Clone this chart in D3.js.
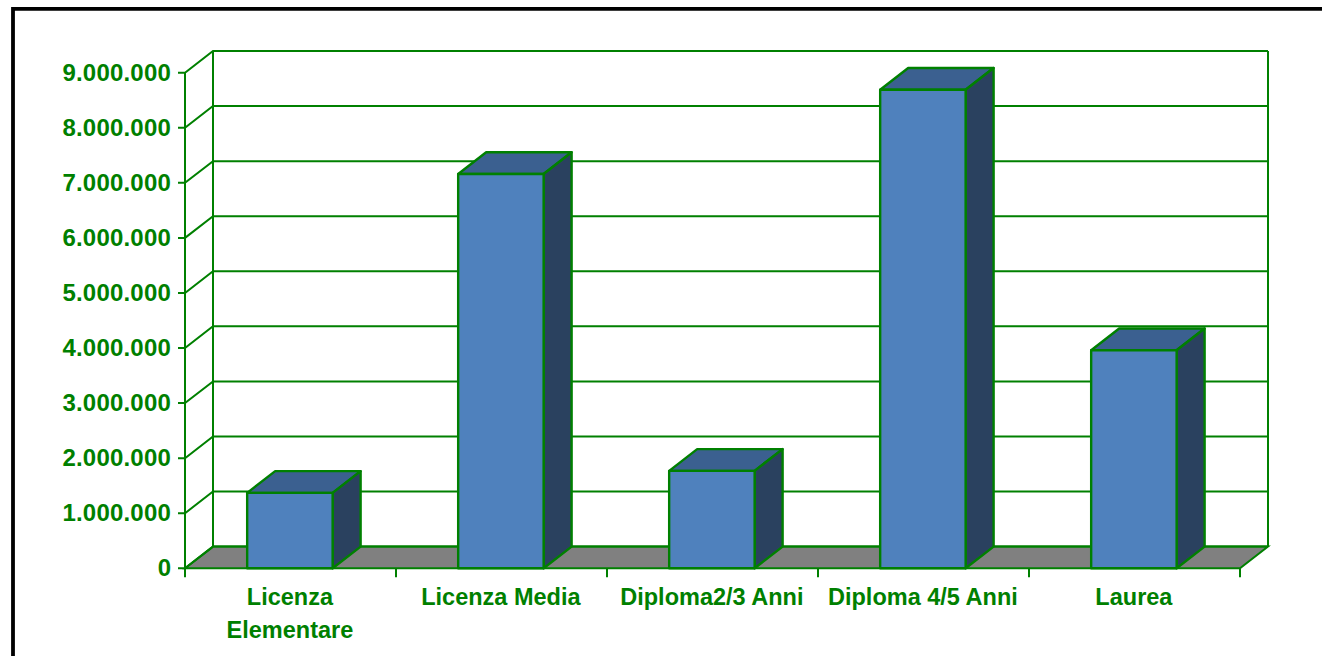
<!DOCTYPE html>
<html><head><meta charset="utf-8">
<script src="https://cdnjs.cloudflare.com/ajax/libs/d3/7.8.5/d3.min.js"></script>
<style>html,body{margin:0;padding:0;background:#fff;overflow:hidden}svg{display:block}
text{font-family:"Liberation Sans",Arial,sans-serif;font-weight:bold;fill:#008000;font-size:24px}</style>
</head><body><svg id="c" width="1322" height="656"></svg>
<script>
const categories = [["Licenza","Elementare"],["Licenza Media"],["Diploma2/3 Anni"],["Diploma 4/5 Anni"],["Laurea"]];
const values = [1370000,7160000,1770000,8690000,3960000];
const yTicks = [0,1000000,2000000,3000000,4000000,5000000,6000000,7000000,8000000,9000000];
const tickLabels = ["0","1.000.000","2.000.000","3.000.000","4.000.000","5.000.000","6.000.000","7.000.000","8.000.000","9.000.000"];

const svg = d3.select("#c");
const green="#008000", dx=28, dy=-21.7;
svg.append("path").attr("d","M13,656L13,8.8L1322,8.8").attr("fill","none").attr("stroke","#000").attr("stroke-width",3.8);

const x = d3.scaleBand().domain(d3.range(5)).range([184.4,1239.4]).paddingInner(0.595).paddingOuter(0.2975);
const y = d3.scaleLinear().domain([0,9000000]).range([568.3,72.7]);
const x0=185,x1=1240,y0=y(0),yT=y(9000000);

svg.append("path").attr("d",`M${x0},${y0}L${x0+dx},${y0+dy}L${x1+dx},${y0+dy}L${x1},${y0}Z`).attr("fill","#808080").attr("stroke",green).attr("stroke-width",2);
const g=svg.append("g").attr("stroke",green).attr("stroke-width",2).attr("fill","none");
g.append("line").attr("x1",x0).attr("x2",x0).attr("y1",y0).attr("y2",yT);
g.append("line").attr("x1",x0+dx).attr("x2",x0+dx).attr("y1",y0+dy).attr("y2",yT+dy);
g.append("line").attr("x1",x1+dx).attr("x2",x1+dx).attr("y1",y0+dy).attr("y2",yT+dy);
yTicks.forEach((t,i)=>{
  const v=y(t);
  g.append("path").attr("d",`M${x0-7},${v}L${x0},${v}L${x0+dx},${v+dy}L${x1+dx},${v+dy}`);
  svg.append("text").attr("x",171).attr("y",v+8).attr("text-anchor","end").attr("letter-spacing",i?0.2:0).text(tickLabels[i]);
});
d3.range(6).forEach(i=>{
  const tx=x0+(x1-x0)*i/5;
  g.append("line").attr("x1",tx).attr("x2",tx).attr("y1",y0).attr("y2",y0+9);
});
const bars=svg.selectAll("g.bar").data(values).join("g").attr("class","bar").attr("stroke",green).attr("stroke-width",2.4).attr("stroke-linejoin","round");
bars.append("path").attr("fill","#3b6090").attr("d",(d,i)=>{const a=x(i),b=a+x.bandwidth(),t=y(d);return `M${a},${t}L${a+dx},${t+dy}L${b+dx},${t+dy}L${b},${t}Z`;});
bars.append("path").attr("fill","#2a415f").attr("d",(d,i)=>{const b=x(i)+x.bandwidth(),t=y(d);return `M${b},${t}L${b+dx},${t+dy}L${b+dx},${y0+dy}L${b},${y0}Z`;});
bars.append("rect").attr("fill","#4f81bd").attr("x",(d,i)=>x(i)).attr("y",d=>y(d)).attr("width",x.bandwidth()).attr("height",d=>y0-y(d));
categories.forEach((c,i)=>{
  c.forEach((s,j)=>svg.append("text").attr("x",x(i)+x.bandwidth()/2).attr("y",604.5+j*33).attr("text-anchor","middle").style("font-size","23.5px").text(s));
});
</script></body></html>
